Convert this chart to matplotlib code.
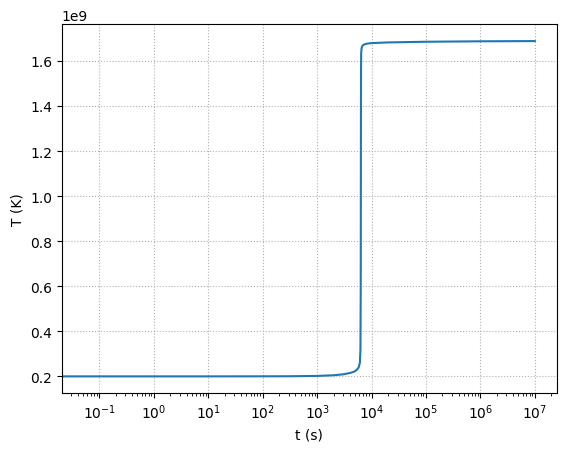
import matplotlib
matplotlib.use("Agg")
import matplotlib.pyplot as plt
import numpy as np

t_s = [0.015, 0.1, 1, 10, 100, 300, 1000, 2000, 3000, 4000, 4700, 5300, 5800, 6100,
       6250, 6330, 6370, 6400, 6450, 6550, 6700, 7000, 7500, 8500, 1e4, 2e4, 1e5, 1e6, 1e7]
T_K = [2.0e8, 2.0e8, 2.0e8, 2.0e8, 2.003e8, 2.006e8, 2.02e8, 2.05e8, 2.09e8, 2.15e8, 2.2e8,
       2.28e8, 2.4e8, 2.6e8, 3.2e8, 6.0e8, 1.2e9, 1.55e9, 1.635e9, 1.655e9, 1.664e9,
       1.670e9, 1.674e9, 1.677e9, 1.679e9, 1.682e9, 1.685e9, 1.687e9, 1.688e9]

fig = plt.figure(figsize=(5.67, 4.52), dpi=100)
ax = fig.add_subplot(111)
fig.subplots_adjust(left=0.109, right=0.982, bottom=0.128, top=0.944)
ax.plot(t_s, T_K, color="C0", lw=1.5)
ax.set_xscale("log")
ax.set_xlim(10**-1.692, 10**7.404)
ax.set_xlabel("t (s)")
ax.set_ylabel("T (K)")
ax.grid(True, linestyle=":")
fig.savefig("out.png", dpi=100)
